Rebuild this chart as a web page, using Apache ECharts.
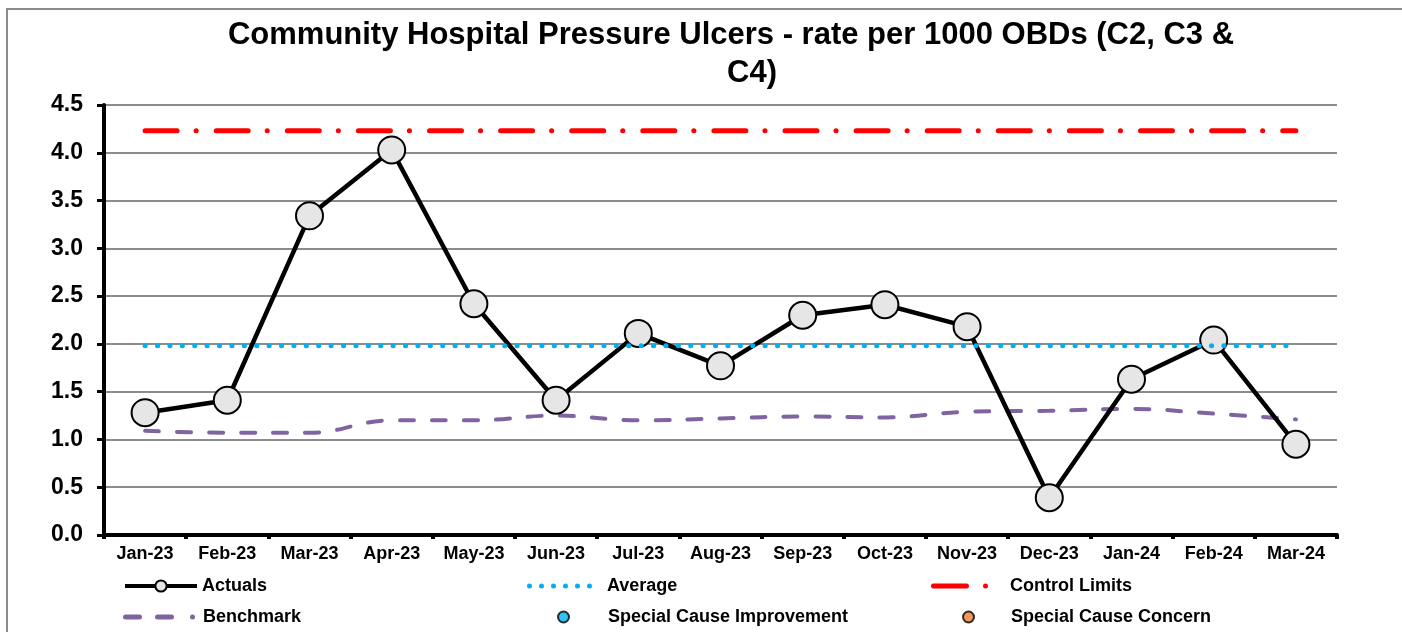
<!DOCTYPE html>
<html>
<head>
<meta charset="utf-8">
<script src="https://cdn.jsdelivr.net/npm/echarts@6/dist/echarts.min.js"></script>
<style>
  html, body { margin: 0; padding: 0; background: #fff; }
  #chart { width: 1402px; height: 632px; }
</style>
</head>
<body>
<div id="chart"></div>
<script>
  // chart data
  var months = ['Jan-23', 'Feb-23', 'Mar-23', 'Apr-23', 'May-23', 'Jun-23', 'Jul-23', 'Aug-23',
    'Sep-23', 'Oct-23', 'Nov-23', 'Dec-23', 'Jan-24', 'Feb-24', 'Mar-24'];
  var actuals = [1.28, 1.41, 3.34, 4.03, 2.42, 1.41, 2.11, 1.77, 2.30, 2.41, 2.18, 0.39, 1.63, 2.04, 0.95];
  var average = [1.98, 1.98, 1.98, 1.98, 1.98, 1.98, 1.98, 1.98, 1.98, 1.98, 1.98, 1.98, 1.98, 1.98, 1.98];
  var upperLimit = [4.23, 4.23, 4.23, 4.23, 4.23, 4.23, 4.23, 4.23, 4.23, 4.23, 4.23, 4.23, 4.23, 4.23, 4.23];
  var benchmark = [1.09, 1.07, 1.07, 1.20, 1.20, 1.25, 1.20, 1.22, 1.24, 1.23, 1.29, 1.30, 1.32, 1.27, 1.21];
  var improvement = [];
  var concern = [];

  var font = "'Liberation Sans', Arial, sans-serif";

  // legend icons drawn as paths (5px high)
  var dot = function (x) {
    return 'M' + x + ',2.5 A2.5,2.5 0 1,1 ' + (x + 5) + ',2.5 A2.5,2.5 0 1,1 ' + x + ',2.5 Z ';
  };
  var dash = function (x, w) {
    return 'M' + (x + 2.5) + ',0 L' + (x + w - 2.5) + ',0 A2.5,2.5 0 0,1 ' + (x + w - 2.5) + ',5 L' +
        (x + 2.5) + ',5 A2.5,2.5 0 0,1 ' + (x + 2.5) + ',0 Z ';
  };
  var averageIcon = 'path://' + dot(0) + dot(12) + dot(24) + dot(36) + dot(48) + dot(60);
  var limitIcon = 'path://' + dash(0, 38) + dot(52);
  var benchIcon = 'path://' + dash(0, 19) + dash(32, 19) + dot(67);

  var legendItem = function (name, left, top, width, height, icon, shift) {
    var item = {name: name};
    if (icon) {
      item.icon = icon;
    }
    return {
      data: [item],
      left: left,
      top: top,
      itemWidth: width,
      itemHeight: height,
      itemGap: 0,
      padding: 0,
      selectedMode: false,
      lineStyle: {width: 4},
      textStyle: {
        fontFamily: font, fontWeight: 'bold', fontSize: 18, color: '#000',
        padding: [0, 0, 0, shift || 0]
      }
    };
  };

  var chart = echarts.init(document.getElementById('chart'));

  chart.setOption({
    backgroundColor: '#fff',
    animation: false,
    graphic: [{
      type: 'rect',
      shape: {x: 7, y: 9, width: 1420, height: 640},
      style: {fill: 'none', stroke: '#8c8c8c', lineWidth: 2},
      silent: true
    }],
    title: [{
      text: 'Community Hospital Pressure Ulcers - rate per 1000 OBDs (C2, C3 &',
      left: 726,
      top: 15,
      textAlign: 'center',
      textStyle: {fontFamily: font, fontWeight: 'bold', fontSize: 31, color: '#000'}
    }, {
      text: 'C4)',
      left: 747,
      top: 53,
      textAlign: 'center',
      textStyle: {fontFamily: font, fontWeight: 'bold', fontSize: 31, color: '#000'}
    }],
    legend: [
      legendItem('Actuals', 123, 577, 72, 14),
      legendItem('Average', 527, 577, 65, 5, averageIcon, 10),
      legendItem('Control Limits', 931, 577, 57, 5, limitIcon, 17),
      legendItem('Benchmark', 123, 608, 72, 5, benchIcon, 3),
      legendItem('Special Cause Improvement', 557, 608, 11, 12, 'circle', 34),
      legendItem('Special Cause Concern', 962, 608, 11, 12, 'circle', 32)
    ],
    grid: {left: 104, right: 65, top: 105, bottom: 97},
    xAxis: {
      type: 'category',
      data: months,
      boundaryGap: true,
      axisLine: {lineStyle: {color: '#000', width: 4}},
      axisTick: {show: true, length: 4, lineStyle: {color: '#000', width: 4}},
      axisLabel: {fontFamily: font, fontWeight: 'bold', fontSize: 18, color: '#000', margin: 10, interval: 0}
    },
    yAxis: {
      type: 'value',
      min: 0,
      max: 4.5,
      interval: 0.5,
      axisLine: {show: true, lineStyle: {color: '#000', width: 4}},
      axisTick: {show: true, inside: false, length: 7, lineStyle: {color: '#000', width: 3}},
      axisLabel: {
        fontFamily: font, fontWeight: 'bold', fontSize: 23, color: '#000', margin: 21,
        formatter: function (v) { return v.toFixed(1); }
      },
      splitLine: {lineStyle: {color: '#8c8c8c', width: 2}}
    },
    series: [{
      name: 'Benchmark',
      type: 'line',
      data: benchmark,
      smooth: 0.4,
      symbol: 'none',
      lineStyle: {color: '#8064a2', width: 4, type: [14, 18], cap: 'round'},
      itemStyle: {color: '#8064a2'},
      z: 2
    }, {
      name: 'Actuals',
      type: 'line',
      data: actuals,
      symbol: 'circle',
      symbolSize: 27,
      lineStyle: {color: '#000', width: 4.5},
      itemStyle: {color: '#e6e6e6', borderColor: '#000', borderWidth: 2},
      z: 3
    }, {
      name: 'Average',
      type: 'line',
      data: average,
      symbol: 'none',
      lineStyle: {color: '#00b0f0', width: 5, type: [0.1, 12.3], cap: 'round'},
      itemStyle: {color: '#00b0f0'},
      z: 4
    }, {
      name: 'Control Limits',
      type: 'line',
      data: upperLimit,
      symbol: 'none',
      lineStyle: {color: '#ff0000', width: 5, type: [32, 19, 0.1, 20], cap: 'round'},
      itemStyle: {color: '#ff0000'},
      z: 4
    }, {
      name: 'Special Cause Improvement',
      type: 'scatter',
      data: improvement,
      symbolSize: 12,
      itemStyle: {color: '#00b0f0', borderColor: '#000', borderWidth: 1}
    }, {
      name: 'Special Cause Concern',
      type: 'scatter',
      data: concern,
      symbolSize: 12,
      itemStyle: {color: '#ed7d31', borderColor: '#000', borderWidth: 1}
    }]
  });
</script>
</body>
</html>
